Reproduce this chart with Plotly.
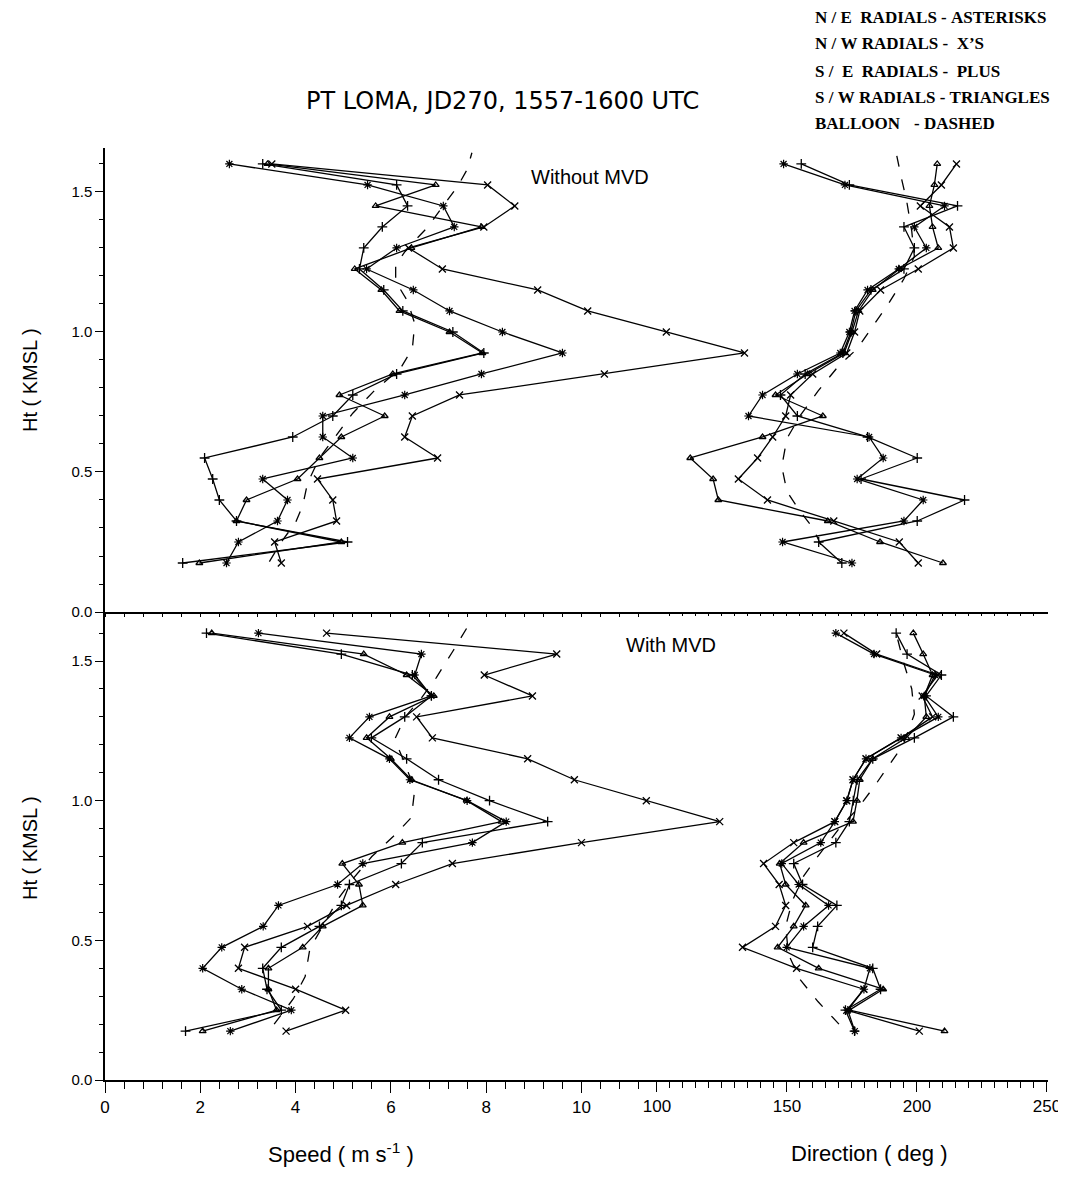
import plotly.graph_objects as go

# ---------------- data ----------------
HEIGHTS = [0.175, 0.25, 0.325, 0.40, 0.475, 0.55, 0.625, 0.70, 0.775, 0.85,
           0.925, 1.00, 1.075, 1.15, 1.225, 1.30, 1.375, 1.45, 1.525, 1.60]

# Without MVD (upper panel)
TOP_SPEED_NE = [2.55, 2.80, 3.62, 3.83, 3.31, 5.20, 4.57, 4.57, 6.29, 7.90, 9.60, 8.34, 7.23, 6.47, 5.49, 6.12, 7.33, 7.10, 5.51, 2.61]
TOP_SPEED_NW = [3.70, 3.56, 4.86, 4.78, 4.46, 6.98, 6.29, 6.45, 7.44, 10.48, 13.42, 11.78, 10.13, 9.08, 7.08, 6.37, 7.95, 8.60, 8.03, 3.50]
TOP_SPEED_SE = [1.63, 5.09, 2.76, 2.40, 2.26, 2.09, 3.94, 4.78, 5.20, 6.12, 7.95, 7.30, 6.25, 5.85, 5.34, 5.43, 5.82, 6.35, 6.12, 3.31]
TOP_SPEED_SW = [1.98, 4.96, 2.76, 2.97, 4.04, 4.50, 4.96, 5.87, 4.92, 6.04, 7.92, 7.23, 6.18, 5.80, 5.24, 6.43, 7.90, 5.68, 6.94, 3.41]

TOP_DIR_NE = [175.0, 148.3, 195.0, 202.4, 177.0, 187.0, 181.6, 135.2, 140.6, 154.0, 170.5, 174.0, 176.0, 181.0, 193.0, 203.6, 199.0, 210.6, 172.3, 148.7]
TOP_DIR_NW = [200.5, 193.2, 168.0, 142.5, 131.3, 138.7, 144.5, 149.5, 151.4, 159.9, 173.0, 176.0, 178.0, 186.0, 200.5, 214.0, 212.5, 201.3, 209.4, 215.2]
TOP_DIR_SE = [171.1, 162.2, 200.1, 218.3, 178.5, 200.1, 181.0, 154.0, 147.5, 157.0, 171.5, 174.6, 176.5, 182.3, 195.0, 199.0, 195.0, 215.6, 174.0, 155.5]
TOP_DIR_SW = [210.0, 185.8, 165.7, 123.6, 121.6, 112.8, 140.6, 163.8, 145.6, 158.0, 172.0, 175.0, 177.5, 183.0, 193.2, 208.2, 206.0, 204.8, 206.7, 207.8]

TOP_BAL_SPD_H = [0.18, 0.25, 0.32, 0.38, 0.46, 0.55, 0.63, 0.71, 0.79, 0.87, 0.94, 1.03, 1.11, 1.18, 1.24, 1.30, 1.37, 1.45, 1.52, 1.58, 1.64]
TOP_BAL_SPD = [3.45, 3.70, 4.00, 4.15, 4.25, 4.50, 4.85, 5.20, 5.65, 6.20, 6.45, 6.50, 6.35, 6.10, 6.10, 6.35, 6.75, 7.10, 7.40, 7.60, 7.70]
TOP_BAL_DIR_H = [0.24, 0.30, 0.36, 0.43, 0.52, 0.62, 0.70, 0.79, 0.88, 0.94, 1.02, 1.10, 1.19, 1.27, 1.36, 1.47, 1.55, 1.64]
TOP_BAL_DIR = [163, 160, 155, 150, 148, 150, 155, 162, 170, 177, 183, 189, 195, 199, 198, 196, 194, 192]

# With MVD (lower panel)
BOT_SPEED_NE = [2.63, 3.91, 2.87, 2.05, 2.45, 3.32, 3.64, 4.88, 5.41, 7.71, 8.42, 7.60, 6.40, 5.97, 5.13, 5.55, 6.85, 6.50, 6.64, 3.22]
BOT_SPEED_NW = [3.80, 5.05, 4.00, 2.80, 2.93, 4.25, 5.07, 6.10, 7.29, 10.00, 12.90, 11.36, 9.85, 8.87, 6.87, 6.54, 8.97, 7.96, 9.48, 4.65]
BOT_SPEED_SE = [1.69, 3.70, 3.40, 3.31, 3.70, 4.50, 4.96, 5.13, 6.22, 6.66, 9.29, 8.07, 7.00, 6.33, 5.59, 6.29, 6.85, 6.45, 4.96, 2.13]
BOT_SPEED_SW = [2.05, 3.60, 3.43, 3.43, 4.15, 4.57, 5.41, 5.33, 4.98, 6.24, 8.32, 7.59, 6.43, 6.00, 5.49, 5.97, 6.90, 6.33, 5.43, 2.24]

BOT_DIR_NE = [176.1, 173.4, 179.6, 181.9, 149.9, 156.4, 166.0, 154.5, 148.0, 163.0, 168.4, 173.0, 175.4, 180.4, 193.9, 208.2, 202.8, 207.0, 183.5, 168.8]
BOT_DIR_NW = [200.9, 173.0, 179.6, 153.7, 132.9, 145.6, 149.5, 147.0, 141.0, 152.6, 168.4, 173.0, 175.4, 180.4, 193.9, 206.0, 202.0, 208.0, 184.5, 171.9]
BOT_DIR_SE = [176.0, 172.5, 186.0, 183.0, 159.9, 161.8, 169.2, 156.0, 152.6, 168.8, 174.0, 175.5, 177.0, 183.0, 199.0, 214.0, 203.5, 209.4, 196.2, 192.0]
BOT_DIR_SW = [210.6, 174.0, 187.0, 162.2, 146.4, 152.6, 157.2, 149.5, 147.2, 156.4, 175.4, 176.9, 178.0, 183.0, 195.9, 203.6, 202.8, 206.0, 202.4, 198.6]

BOT_BAL_SPD_H = [0.20, 0.29, 0.37, 0.47, 0.56, 0.65, 0.72, 0.80, 0.88, 0.94, 1.04, 1.13, 1.22, 1.30, 1.37, 1.44, 1.535, 1.62]
BOT_BAL_SPD = [3.55, 3.95, 4.20, 4.30, 4.60, 4.90, 5.20, 5.60, 6.10, 6.43, 6.50, 6.30, 6.08, 6.30, 6.65, 6.95, 7.30, 7.60]
BOT_BAL_DIR_H = [0.20, 0.28, 0.36, 0.45, 0.55, 0.64, 0.73, 0.80, 0.90, 0.97, 1.05, 1.13, 1.20, 1.31, 1.40, 1.50, 1.60]
BOT_BAL_DIR = [170, 162, 155, 150.6, 149.5, 152, 156.4, 161.8, 170, 177, 183.5, 189.3, 194.7, 199, 198, 194.7, 192]

SPEED_TICKS = [0, 2, 4, 6, 8, 10]
SPEED_TICK_TEXT = ["0", "2", "4", "6", "8", "10"]
DIR_TICKS = [100, 150, 200, 250]
DIR_TICK_TEXT = ["100", "150", "200", "250"]
HT_TICKS = [0.0, 0.5, 1.0, 1.5]
HT_TICK_TEXT = ["0.0", "0.5", "1.0", "1.5"]

LEGEND_LINES = ["N / E  RADIALS - ASTERISKS", "N / W RADIALS -  X\u2019S",
                "S /  E  RADIALS -  PLUS", "S / W RADIALS - TRIANGLES", "BALLOON"]
LEGEND_BALLOON = "- DASHED"

# ---------------- layout geometry ----------------
# The page body has an 8px margin, so the figure is drawn 8px right/down.
OFF = 8
W, H = 1066 - OFF, 1177 - 2 * OFF
PLOT_L, PLOT_R, PLOT_T, PLOT_B = 105, 1048, 148, 1080      # target page pixels
ML, MT = PLOT_L - OFF, PLOT_T - OFF
MR, MB = W - (PLOT_R - OFF), H - (PLOT_B - OFF)
PW = W - ML - MR
PH = H - MT - MB
SPEED_RANGE = [0, 19.79]
DIR_RANGE = [-112.3, 250.4]
Y_SPLIT = (PLOT_B - 612) / PH
BOT_RANGE = [0, 1.6756]
TOP_RANGE = [0, 1.657]


def px(xp, yp):
    """page pixel -> paper coords"""
    return (xp - PLOT_L) / PW, (PLOT_B - yp) / PH


LINE = dict(color="black", width=1.3)
MARKERS = {
    "NE": dict(symbol="asterisk-open", size=7, color="black", line=dict(width=1.2, color="black")),
    "NW": dict(symbol="x-thin-open", size=7, color="black", line=dict(width=1.3, color="black")),
    "SE": dict(symbol="cross-thin-open", size=7, color="black", line=dict(width=1.3, color="black")),
    "SW": dict(symbol="triangle-up-open", size=6, color="black", line=dict(width=1.3, color="black")),
}
DASH = dict(color="black", width=1.3, dash="11px,13px")

fig = go.Figure()

panels = [
    (dict(NE=TOP_SPEED_NE, NW=TOP_SPEED_NW, SE=TOP_SPEED_SE, SW=TOP_SPEED_SW),
     dict(NE=TOP_DIR_NE, NW=TOP_DIR_NW, SE=TOP_DIR_SE, SW=TOP_DIR_SW),
     (TOP_BAL_SPD_H, TOP_BAL_SPD, TOP_BAL_DIR_H, TOP_BAL_DIR), "x3", "x4", "y2"),
    (dict(NE=BOT_SPEED_NE, NW=BOT_SPEED_NW, SE=BOT_SPEED_SE, SW=BOT_SPEED_SW),
     dict(NE=BOT_DIR_NE, NW=BOT_DIR_NW, SE=BOT_DIR_SE, SW=BOT_DIR_SW),
     (BOT_BAL_SPD_H, BOT_BAL_SPD, BOT_BAL_DIR_H, BOT_BAL_DIR), "x", "x2", "y"),
]

for spd, drc, bal, xs, xd, ya in panels:
    for key in ["NE", "NW", "SE", "SW"]:
        fig.add_trace(go.Scatter(x=spd[key], y=HEIGHTS, mode="lines+markers",
                                 line=LINE, marker=MARKERS[key], xaxis=xs, yaxis=ya,
                                 showlegend=False, hoverinfo="skip"))
        fig.add_trace(go.Scatter(x=drc[key], y=HEIGHTS, mode="lines+markers",
                                 line=LINE, marker=MARKERS[key], xaxis=xd, yaxis=ya,
                                 showlegend=False, hoverinfo="skip"))
    bh, bs, bdh, bd = bal
    fig.add_trace(go.Scatter(x=bs, y=bh, mode="lines", line=DASH, xaxis=xs, yaxis=ya,
                             showlegend=False, hoverinfo="skip"))
    fig.add_trace(go.Scatter(x=bd, y=bdh, mode="lines", line=DASH, xaxis=xd, yaxis=ya,
                             showlegend=False, hoverinfo="skip"))

SPEED_MINOR = [round(0.4 * i, 2) for i in range(0, 29)]
DIR_MINOR = list(range(105, 250, 5))
TICKFONT_X = dict(family="Liberation Sans Narrow, Arial Narrow, Liberation Sans, Arial", size=17, color="black")
TICKFONT_Y = dict(family="Liberation Sans, Arial", size=15, color="black")

common_x = dict(showgrid=False, zeroline=False, ticks="outside", tickcolor="black",
                tickwidth=1.2, automargin=False)

fig.update_layout(
    template="none",
    width=W, height=H,
    margin=dict(l=ML, r=MR, t=MT, b=MB, pad=0, autoexpand=False),
    paper_bgcolor="white", plot_bgcolor="white",
    showlegend=False,
    xaxis=dict(domain=[0, 1], range=SPEED_RANGE, anchor="y", tickmode="array",
               tickvals=SPEED_TICKS, ticktext=SPEED_TICK_TEXT, ticklen=11,
               tickfont=TICKFONT_X, showline=True, linecolor="black", linewidth=1.5,
               minor=dict(tickmode="array", tickvals=SPEED_MINOR, ticks="outside", ticklen=7,
                          tickcolor="black", tickwidth=1.2, showgrid=False),
               **common_x),
    xaxis2=dict(overlaying="x", anchor="y", side="bottom", range=DIR_RANGE, tickmode="array",
                tickvals=DIR_TICKS, ticktext=DIR_TICK_TEXT, ticklen=11, tickfont=TICKFONT_X,
                showline=False,
                minor=dict(tickmode="array", tickvals=DIR_MINOR, ticks="outside", ticklen=7,
                           tickcolor="black", tickwidth=1.2, showgrid=False),
                **common_x),
    xaxis3=dict(domain=[0, 1], range=SPEED_RANGE, anchor="y2", tickmode="array",
                tickvals=SPEED_MINOR, ticklen=3, showticklabels=False,
                showline=True, linecolor="black", linewidth=1.5, **common_x),
    xaxis4=dict(overlaying="x3", anchor="y2", side="bottom", range=DIR_RANGE, tickmode="array",
                tickvals=DIR_MINOR, ticklen=3, showticklabels=False, showline=False, **common_x),
    yaxis=dict(domain=[0, Y_SPLIT], range=BOT_RANGE, anchor="x", tickmode="array",
               tickvals=HT_TICKS, ticktext=HT_TICK_TEXT, ticks="outside", ticklen=8,
               tickcolor="black", tickwidth=1.2, tickfont=TICKFONT_Y, automargin=False,
               showline=True, linecolor="black", linewidth=1.5, showgrid=False, zeroline=False,
               minor=dict(dtick=0.1, tick0=0, ticks="outside", ticklen=4, tickcolor="black",
                          tickwidth=1.2, showgrid=False)),
    yaxis2=dict(domain=[Y_SPLIT, 1], range=TOP_RANGE, anchor="x3", tickmode="array",
                tickvals=HT_TICKS, ticktext=HT_TICK_TEXT, ticks="outside", ticklen=8,
                tickcolor="black", tickwidth=1.2, tickfont=TICKFONT_Y, automargin=False,
                showline=True, linecolor="black", linewidth=1.5, showgrid=False, zeroline=False,
                minor=dict(dtick=0.1, tick0=0, ticks="outside", ticklen=4, tickcolor="black",
                           tickwidth=1.2, showgrid=False)),
)

annotations = []


def add_text(text, xp, yp, size, family="Liberation Sans, Arial", xanchor="center", angle=0):
    xx, yy = px(xp, yp)
    annotations.append(dict(text=text, x=xx, y=yy, xref="paper", yref="paper",
                            xanchor=xanchor, yanchor="middle", showarrow=False,
                            textangle=angle, font=dict(family=family, size=size, color="black")))


add_text("PT LOMA, JD270, 1557-1600 UTC", 502, 101, 24, family="DejaVu Sans, Liberation Sans")
SERIF = "Liberation Serif, Times New Roman, serif"
leg_y = [18, 44, 71, 98, 124]
for i in range(5):
    add_text("<b>" + LEGEND_LINES[i].replace(" ", "\u00a0") + "</b>", 813, leg_y[i], 17, SERIF, "left")
add_text("<b>" + LEGEND_BALLOON.replace(" ", "\u00a0") + "</b>", 912, leg_y[4], 17, SERIF, "left")

add_text("Without MVD", 590, 177, 20)
add_text("With MVD", 671, 645, 20)
add_text("Ht ( KMSL )", 30, 380, 20, angle=-90)
add_text("Ht ( KMSL )", 30, 848, 20, angle=-90)
add_text("Speed ( m s<sup>-1</sup> )", 341, 1153, 22)
add_text("Direction ( deg )", 869, 1153, 22)

fig.update_layout(annotations=annotations)

fig.write_html("out.html")
